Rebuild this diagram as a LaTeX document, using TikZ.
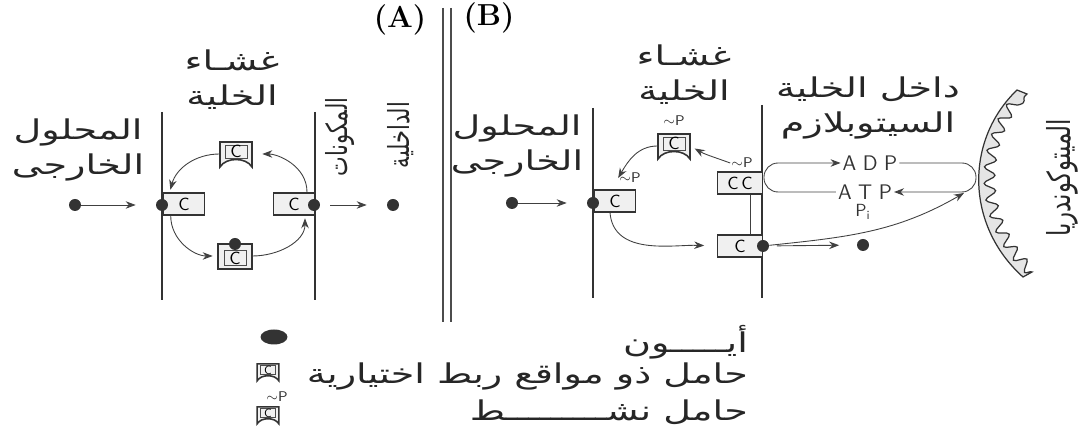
\documentclass[tikz,border=0pt]{standalone}
\usepackage{fontspec}
\newfontfamily\arabicfont[Script=Arabic, FakeStretch=1.4]{DejaVu Sans}
\newfontfamily\arabicnarrow[Script=Arabic, FakeStretch=0.72]{DejaVu Sans}
\TeXXeTstate=1
\usetikzlibrary{arrows.meta,decorations.pathmorphing,shapes.geometric}
\newcommand{\rl}[1]{\beginR #1\endR}

\tikzset{
  membrane/.style={line width=1.1pt, black!80},
  ion/.style={circle, fill=black!80, inner sep=0pt, minimum size=2.4mm},
  cline/.style={draw=black!80, line width=0.9pt},
  cbox/.style={cline, fill=gray!12, minimum width=8.2mm, minimum height=4.4mm, inner sep=0pt, font=\sffamily},
  ctext/.style={inner sep=0pt, font=\sffamily},
  hitbox/.style={inner sep=0pt},
  flow/.style={black!75, line width=0.5pt, -{Stealth[length=2mm, width=1.5mm]}},
  lbl/.style={font=\arabicfont\fontsize{15.5}{20}\selectfont, align=center, text=black!85, inner sep=1pt},
  vlbl/.style={font=\arabicnarrow\fontsize{16.5}{18}\selectfont, text=black!85, inner sep=1pt, rotate=90},
  chem/.style={font=\sffamily\large, text=black!80, inner sep=1pt},
  tilp/.style={font=\sffamily\footnotesize, inner sep=0.5pt, text=black!80},
  panel/.style={font=\bfseries\LARGE},
  notched/.pic={
    \draw[cline, fill=gray!12] (-16,12) -- (16,12) -- (16,-13) .. controls (10,-3) and (-10,-3) .. (-16,-13) -- cycle;
    \draw[black!70, line width=0.5pt] (-11,9) rectangle (11,-4);
    \node[ctext] (-c) at (0,2.5) {C};
    \node[hitbox, minimum width=6.4mm, minimum height=5mm] (-box) at (0,0) {};
  },
  loaded/.pic={
    \draw[cline, fill=gray!12] (-17,12) rectangle (17,-13);
    \draw[black!70, line width=0.5pt] (-11,6) rectangle (11,-9);
    \node[ctext] (-c) at (0,-2) {C};
    \node[ion] (-ion) at (0,12) {};
    \node[hitbox, minimum width=6.8mm, minimum height=5mm] (-box) at (0,0) {};
  }
}

\begin{document}
\begin{tikzpicture}[x=0.2mm, y=0.2mm]
\useasboundingbox (0,0) rectangle (1086,444);

% divider
\draw[line width=0.9pt, black!70] (443,436) -- (443,122) (451,436) -- (451,122);
\node[panel] (titA) at (400,424) {(A)};
\node[panel] (titB) at (489,426) {(B)};

% --- A: carrier without energy
\draw[membrane] (162,332) -- (162,144);
\draw[membrane] (315,332) -- (315,144);
\node[lbl] (memA) at (232,364) {\rl{غشـاء}\\\rl{الخلية}};
\node[lbl] (outA) at (78,294) {\rl{المحلول}\\\rl{الخارجى}};
\node[vlbl] (inA1) at (340,307) {\rl{المكونات}};
\node[vlbl] (inA2) at (401,309) {\rl{الداخلية}};

\node[cbox] (boxAl) at (184,240) {C};
\node[cbox] (boxAr) at (294,240) {C};
\node[ion] (ionAo) at (75,239) {};
\node[ion] (ionAl) at (162,239) {};
\node[ion] (ionAr) at (314,239) {};
\node[ion] (ionAi) at (393,239) {};
\pic (topA) at (236,290) {notched};
\pic (botA) at (235,188) {loaded};

\draw[flow, shorten >=4mm] (ionAo) -- (ionAl);
\draw[flow, shorten <=2mm, shorten >=4mm] (ionAr) -- (ionAi);
\draw[flow, shorten >=2mm] ([xshift=2.6mm]boxAr.north) to[out=90, in=0] (topA-box.east);
\draw[flow, shorten >=0.5mm] (topA-box.west) to[out=180, in=75] ([xshift=1.4mm]boxAl.north west);
\draw[flow, shorten >=1mm] ([xshift=1.6mm]boxAl.south west) to[out=-90, in=180] (botA-box.west);
\draw[flow, shorten >=0.5mm] (botA-box.east) to[out=0, in=-90] ([xshift=2.2mm]boxAr.south);

% --- B: active carrier
\draw[membrane] (593,336) -- (593,146);
\draw[membrane] (762,339) -- (762,146);
\node[lbl] (memB) at (684,369) {\rl{غشـاء}\\\rl{الخلية}};
\node[lbl] (outB) at (517,298) {\rl{المحلول}\\\rl{الخارجى}};
\node[lbl] (cytB) at (868,336) {\rl{داخل الخلية}\\\rl{السيتوبلازم}};
\node[vlbl, font=\arabicnarrow\fontsize{18}{20}\selectfont] (mitoB) at (1062,266) {\rl{الميتوكوندريا}};

\node[cbox] (boxBl) at (615,243) {C};
\node[cbox, minimum width=9mm] (boxBt) at (740,261) {C\,C};
\node[cbox, minimum width=9mm] (boxBb) at (740,198) {C};
\node[ion] (ionBo) at (512,241) {};
\node[ion] (ionBl) at (593,241) {};
\node[ion] (ionBr) at (763,198) {};
\node[ion] (ionBx) at (863,199) {};
\pic (topB) at (674,298) {notched};
\node[tilp] (pTop) at (674,323) {\(\sim\)P};
\node[tilp] (pL) at (630,266) {\(\sim\)P};
\node[tilp] (pR) at (742,281) {\(\sim\)P};

\draw[flow, shorten >=4mm] (ionBo) -- (ionBl);
\draw[flow] (topB-box.west) to[out=180, in=60] (pL.west);
\draw[flow, shorten >=1mm] (pR.west) to[out=160, in=-30] (topB-box.east);
\draw[flow, shorten >=2.5mm] ([xshift=-1mm]boxBl.south) to[out=-85, in=178] (boxBb.west);
\draw[black!75, line width=0.5pt] ([xshift=2mm]boxBt.south) -- ([xshift=2mm]boxBb.north);
\draw[flow, shorten <=1.5mm, shorten >=3.5mm] (ionBr) -- (ionBx);

% ATP / ADP exchange with the mitochondrion
\node[chem] (adp) at (870,281) {A\hspace{1.3mm}D\hspace{1.3mm}P};
\node[chem] (atp) at (865,252) {A\hspace{1.3mm}T\hspace{1.3mm}P};
\node[chem, font=\sffamily] (pi) at (863,232) {P\textsubscript{i}};
\coordinate (loopL) at (764,266);
\coordinate (loopR) at (976,266);
\coordinate (piIn) at (964,251);
\draw[flow, rounded corners=2.8mm] (atp.west) -- (atp.west -| loopL) -- (adp.west -| loopL) -- (adp.west);
\draw[flow, rounded corners=2.8mm] (adp.east) -- (adp.east -| loopR) -- (atp.east -| loopR) -- (atp.east);
\draw[flow] (ionBr) to[out=6, in=-150] (piIn);

\filldraw[draw=black!80, fill=gray!20, line width=0.7pt]
  (1017,354) .. controls (965,304) and (965,219) .. (1023,167) -- (1032,172)
  decorate[decoration={snake, amplitude=1.1mm, segment length=3.2mm}] { .. controls (980,222) and (980,300) .. (1027,350)} -- cycle;

% key
\node[ion, ellipse, minimum width=5.4mm, minimum height=3mm] (ionK) at (274,107) {};
\pic[scale=0.68, transform shape] (carK) at (268,72) {notched};
\pic[scale=0.68, transform shape] (actK) at (268,29) {notched};
\node[tilp] (pK) at (277,47) {\(\sim\)P};
\node[lbl, anchor=east] (keyIon) at (750,102) {\rl{أيـــــون}};
\node[lbl, anchor=east] (keyCar) at (750,68) {\rl{حامل ذو مواقع ربط اختيارية}};
\node[lbl, anchor=east] (keyAct) at (750,32) {\rl{حامل نشـــــــــط}};
\end{tikzpicture}
\end{document}
